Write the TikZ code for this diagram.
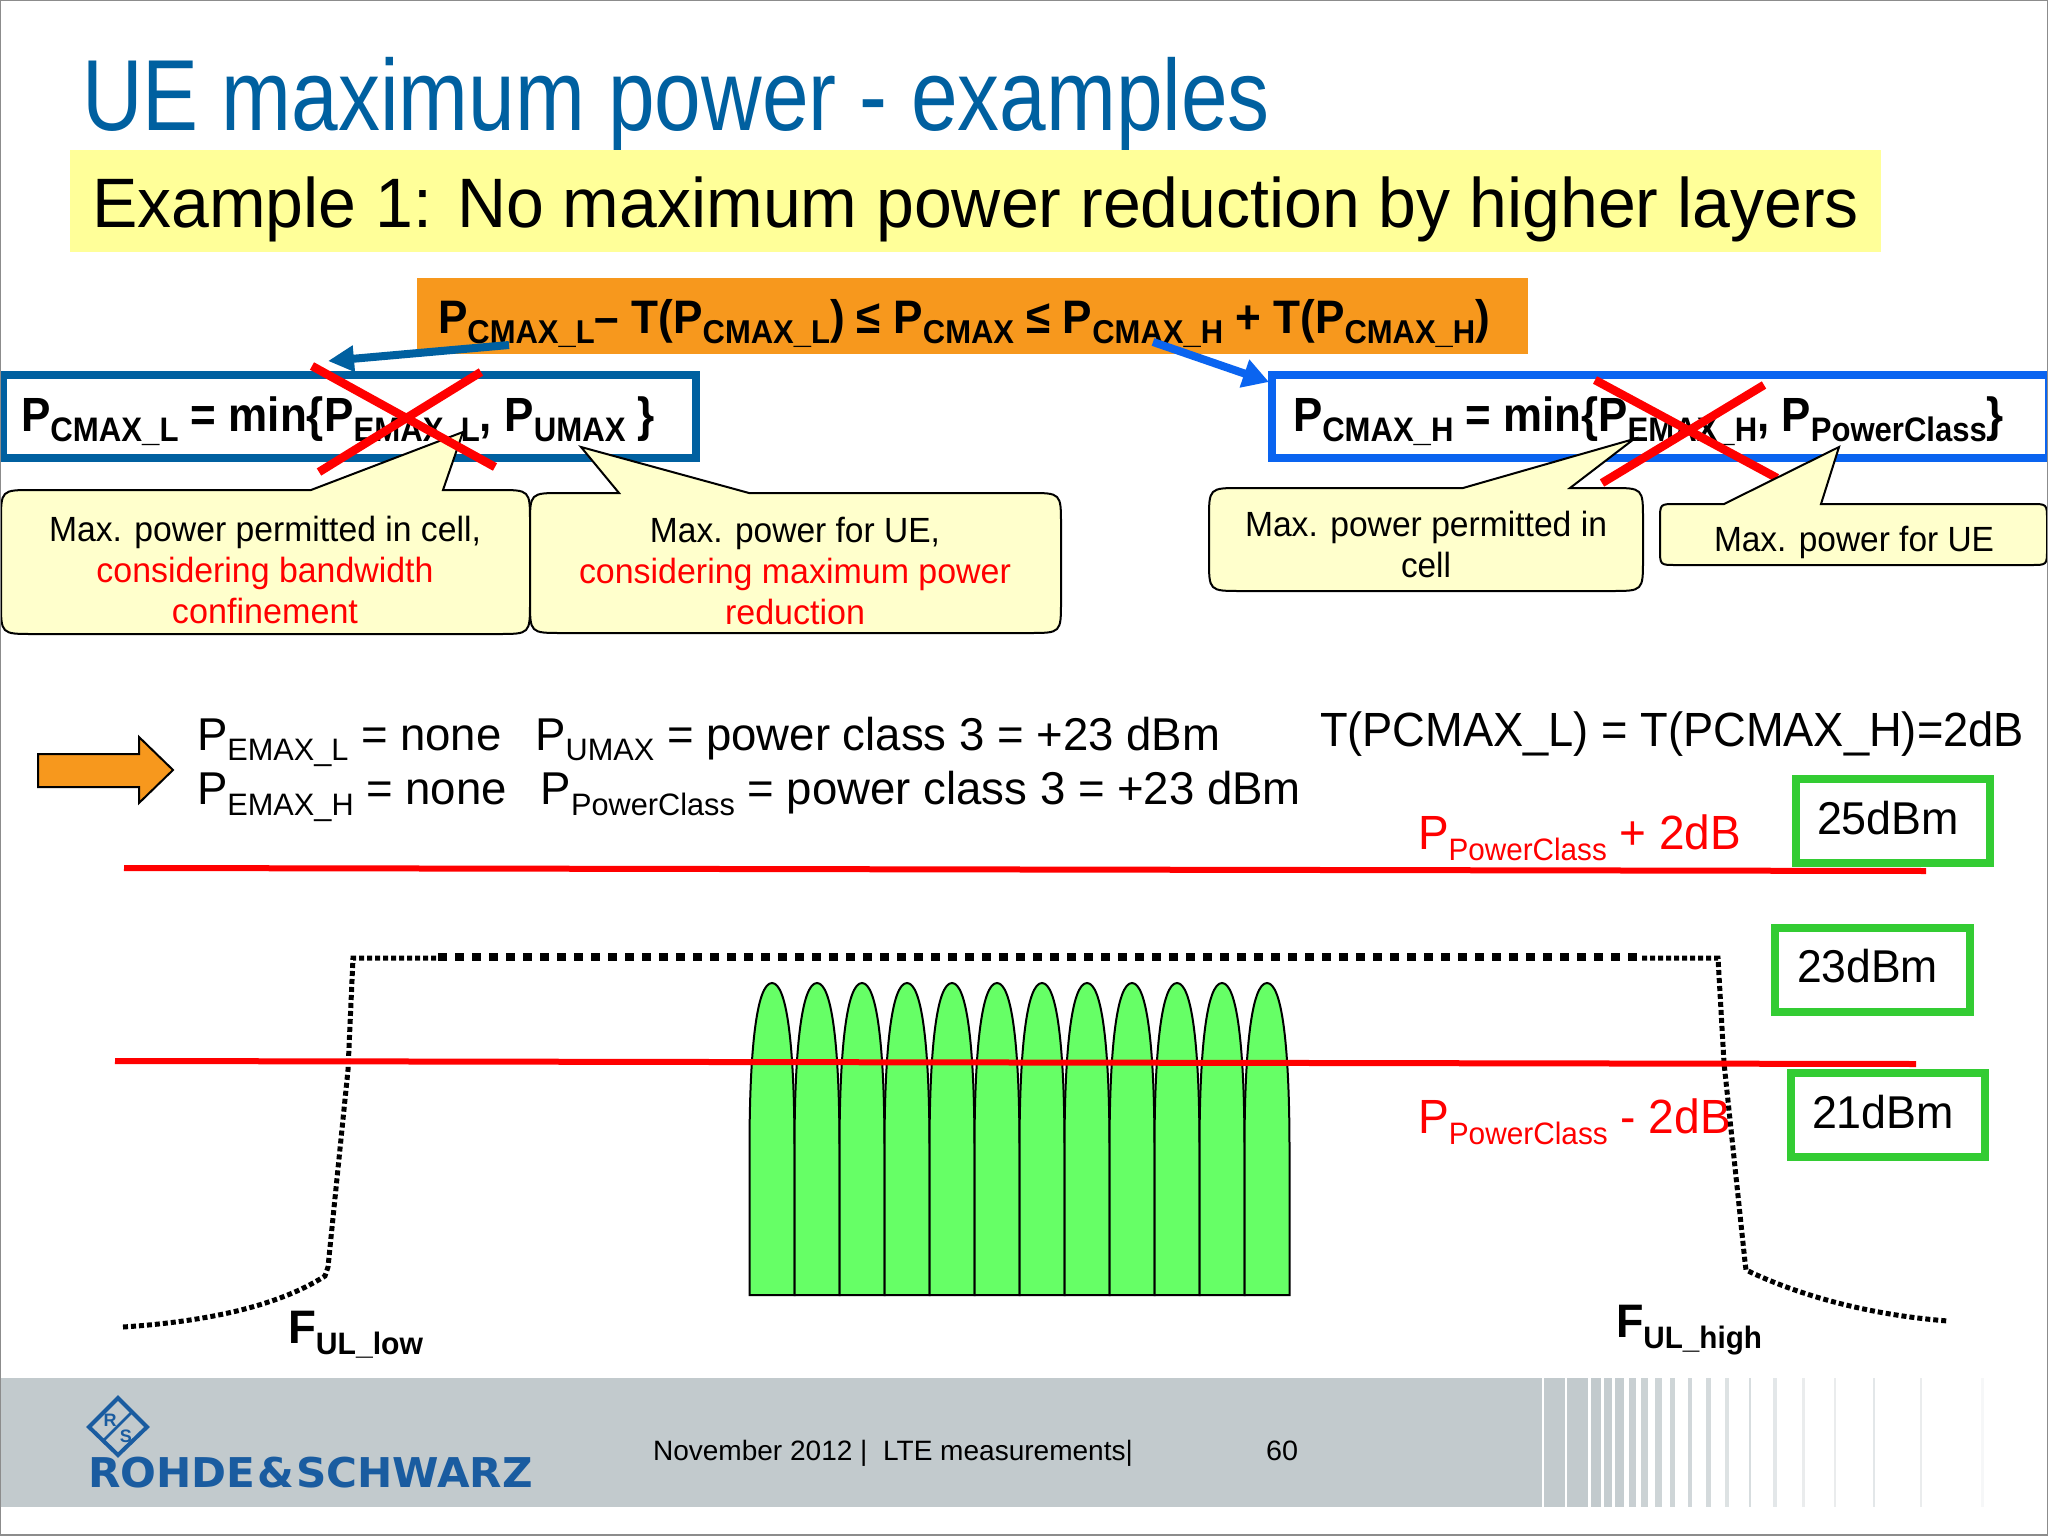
\documentclass[tikz,border=0pt]{standalone}
\usepackage{fontspec}
\usepackage{graphicx}
\setmainfont{Liberation Sans}
\newfontfamily\logofont{DejaVu Sans}
\usetikzlibrary{arrows.meta}
\definecolor{rsblue}{RGB}{0,96,160}
\definecolor{brblue}{RGB}{10,100,240}
\definecolor{orangebar}{RGB}{247,152,29}
\definecolor{yellowbar}{RGB}{255,255,153}
\definecolor{callfill}{RGB}{255,255,204}
\definecolor{grbox}{RGB}{51,204,51}
\definecolor{carrier}{RGB}{102,255,102}
\definecolor{band}{RGB}{194,202,205}
\definecolor{logoblue}{RGB}{26,92,160}
\newcommand{\fs}[1]{\fontsize{#1}{#1}\selectfont}
\newcommand{\fitw}[2]{\resizebox{#1pt}{\height}{#2}}
\newcommand{\dn}[3]{\raisebox{-#1pt}{\fs{#2}#3}}
\newcommand{\callout}[9]{%
 \draw[callshape] (#5,#2) -- (#6,#7) -- (#8,#2) -- (#3-#9,#2)
  .. controls (#3,#2) and (#3,#2) .. (#3,#2+#9) -- (#3,#4-#9)
  .. controls (#3,#4) and (#3,#4) .. (#3-#9,#4) -- (#1+#9,#4)
  .. controls (#1,#4) and (#1,#4) .. (#1,#4-#9) -- (#1,#2+#9)
  .. controls (#1,#2) and (#1,#2) .. (#1+#9,#2) -- cycle;}
\tikzset{
 txt/.style={inner sep=0pt,outer sep=0pt,anchor=base west},
 ctr/.style={inner sep=0pt,outer sep=0pt,anchor=base},
 callshape/.style={draw=black,fill=callfill,line width=2pt},
 crossline/.style={draw=red,line width=8.5pt},
 limitline/.style={draw=red,line width=6pt},
 greenbox/.style={draw=grbox,line width=8pt,fill=white},
 thindot/.style={draw=black,line width=5pt,dash pattern=on 5pt off 3pt},
 thickdot/.style={draw=black,line width=8pt,dash pattern=on 9pt off 8pt},
 carrierblob/.style={draw=black,fill=carrier,line width=2pt},
}
\begin{document}
\begin{tikzpicture}[x=1pt,y=-1pt]
\useasboundingbox (0,0) rectangle (2048,1536);
\fill[white] (0,0) rectangle (2048,1536);
% title
\node[txt,text=rsblue] (title) at (82,131) {\fs{101}\fitw{1188}{UE maximum power - examples}};
\fill[yellowbar] (70,150) rectangle (1881,252);
\node[txt] (example) at (92,227) {\fs{70}\fitw{1767}{Example 1: No maximum power reduction by higher layers}};
% orange
\fill[orangebar] (417,278) rectangle (1528,354);
\node[txt] (ineq) at (438,333) {\fs{47}\bfseries\fitw{1052}{P\dn{10}{33}{CMAX\_L}– T(P\dn{10}{33}{CMAX\_L}) ≤ P\dn{10}{33}{CMAX} ≤ P\dn{10}{33}{CMAX\_H} + T(P\dn{10}{33}{CMAX\_H})}};
% boxes
\draw[draw=rsblue,line width=8pt] (3,375) rectangle (696,458);
\draw[draw=brblue,line width=8pt] (1272,375) rectangle (2049,458);
\node[txt] (pl) at (21,431) {\fs{48}\bfseries\fitw{634}{P\dn{10}{34}{CMAX\_L} = min\{P\dn{10}{34}{EMAX\_L}, P\dn{10}{34}{UMAX} \}}};
\node[txt] (ph) at (1293,431) {\fs{48}\bfseries\fitw{711}{P\dn{10}{34}{CMAX\_H} = min\{P\dn{10}{34}{EMAX\_H}, P\dn{10}{34}{PowerClass}\}}};
% arrows
\coordinate (la) at (509,345);
\coordinate (lb) at (328,361);
\coordinate (ra) at (1153,342);
\coordinate (rb) at (1269,382);
\draw[draw=rsblue,line width=8pt,-{Triangle[length=26pt,width=25pt]}] (la) -- (lb);
\draw[draw=brblue,line width=8pt,-{Triangle[length=26pt,width=28pt]}] (ra) -- (rb);
% left callouts
\callout{1}{490}{530}{634}{311}{463}{432}{443}{32}
\callout{530}{493}{1061}{633}{619}{581}{447}{749}{32}
\node[ctr] (c1a) at (265,541) {\fs{35}\fitw{432}{Max. power permitted in cell,}};
\node[ctr,text=red] (c1b) at (265,582) {\fs{35}\fitw{337}{considering bandwidth}};
\node[ctr,text=red] (c1c) at (265,623) {\fs{35}\fitw{186}{confinement}};
\node[ctr] (c2a) at (795,542) {\fs{35}\fitw{290}{Max. power for UE,}};
\node[ctr,text=red] (c2b) at (795,583) {\fs{35}\fitw{432}{considering maximum power}};
\node[ctr,text=red] (c2c) at (795,624) {\fs{35}\fitw{140}{reduction}};
\draw[crossline] (312,366) -- (495,467);
\draw[crossline] (481,372) -- (319,472);
% right callouts
\callout{1209}{488}{1643}{591}{1463}{1634}{439}{1570}{32}
\node[ctr] (c3a) at (1426,536) {\fs{35}\fitw{362}{Max. power permitted in}};
\node[ctr] (c3b) at (1426,577) {\fs{35}\fitw{50}{cell}};
\draw[crossline] (1595,380) -- (1777,478);
\draw[crossline] (1764,385) -- (1602,483);
\callout{1660}{504}{2047}{565}{1724}{1839}{447}{1821}{16}
\node[ctr] (c4a) at (1854,551) {\fs{35}\fitw{280}{Max. power for UE}};
% lower left arrow
\draw[draw=black,fill=orangebar,line width=2pt] (38,754) -- (139,754) -- (139,737) -- (173,770) -- (139,803) -- (139,787) -- (38,787) -- cycle;
\node[txt] (eq1) at (197,750) {\fs{46}\fitw{1023}{P\dn{10}{31}{EMAX\_L} = none\hspace{34pt}P\dn{10}{31}{UMAX} = power class 3 = +23 dBm}};
\node[txt] (eq2) at (197,804) {\fs{46}\fitw{1104}{P\dn{11}{31}{EMAX\_H} = none\hspace{34pt}P\dn{11}{31}{PowerClass} = power class 3 = +23 dBm}};
\node[txt] (teq) at (1320,746) {\fs{48}\fitw{704}{T(PCMAX\_L) = T(PCMAX\_H)=2dB}};
\node[txt,text=red] (upper) at (1418,849) {\fs{48}\fitw{323}{P\dn{11}{31}{PowerClass} + 2dB}};
\node[txt,text=red] (lower) at (1418,1133) {\fs{48}\fitw{313}{P\dn{11}{31}{PowerClass} - 2dB}};
% green boxes
\draw[greenbox] (1796,779) rectangle (1990,863);
\draw[greenbox] (1775,928) rectangle (1970,1012);
\draw[greenbox] (1791,1073) rectangle (1985,1157);
\node[txt] (g25) at (1817,834) {\fs{46}\fitw{142}{25dBm}};
\node[txt] (g23) at (1797,982) {\fs{46}\fitw{141}{23dBm}};
\node[txt] (g21) at (1812,1128) {\fs{46}\fitw{142}{21dBm}};
% limit line upper
\draw[limitline] (124,868) -- (1926,871);
% carriers
\foreach \i in {0,...,11}{
  \pgfmathsetmacro{\xa}{749.5+45*\i}
  \pgfmathsetmacro{\xb}{\xa+45}
  \pgfmathsetmacro{\xc}{\xa+22.5}
  \draw[carrierblob] (\xa,1295) -- (\xa,1150)
     .. controls (\xa,1050) and (\xa+7,983) .. (\xc,983)
     .. controls (\xb-7,983) and (\xb,1050) .. (\xb,1150) -- (\xb,1295) -- cycle;
}
% dotted mask
\draw[thindot] (123,1327) .. controls (200,1322) and (275,1308) .. (325,1276) -- (328,1267) -- (348,1070) -- (353,958) -- (438,958);
\draw[thickdot] (438,957) -- (1642,957);
\draw[thindot] (1642,958) -- (1718,958) -- (1724,1063) -- (1745,1262) -- (1746,1270) .. controls (1800,1296) and (1870,1315) .. (1948,1321);
% limit line lower
\draw[limitline] (115,1061) -- (1916,1064);
\node[txt] (flow) at (288,1343) {\fs{47}\bfseries\fitw{135}{F\dn{11}{31}{UL\_low}}};
\node[txt] (fhigh) at (1616,1337) {\fs{47}\bfseries\fitw{146}{F\dn{11}{31}{UL\_high}}};
% footer
\fill[band] (0,1378) rectangle (1542,1507);
\foreach \a/\b/\m in {127/185/100,193/253/100,260/288/100,297/320/95,330/355/95,369/389/90,404/424/85,444/463/80,487/500/80,539/549/75,590/603/70,645/655/55,712/719/65,782/792/45,865/873/35,955/962/35,1066/1073/45,1202/1207/35,1375/1385/15}{
  \fill[band!\m!white] ({1500+\a/2.861},1378) rectangle ({1500+\b/2.861},1507);
}
\node[txt] (foot) at (653,1460) {\fs{28}\fitw{480}{November 2012 |\ \ LTE measurements|}};
\node[txt] (page) at (1266,1460) {\fs{28}\fitw{32}{60}};
% logo
\draw[draw=logoblue,line width=4pt] (89,1427) -- (118,1398) -- (147,1427) -- (118,1455) -- cycle;
\draw[draw=logoblue,line width=2.5pt] (103,1441) -- (132,1412);
\node[ctr,text=logoblue] (logor) at (110,1426) {\fs{18}\bfseries R};
\node[ctr,text=logoblue] (logos) at (126,1442) {\fs{18}\bfseries S};
\node[txt,text=logoblue] (logo) at (88,1487) {\logofont\fs{41}\bfseries\fitw{445}{ROHDE\hspace{2pt}\&\hspace{2pt}SCHWARZ}};
% page edge
\draw[draw=black!45,line width=1.5pt] (0.5,0.5) rectangle (2047.5,1535);
\end{tikzpicture}
\end{document}
